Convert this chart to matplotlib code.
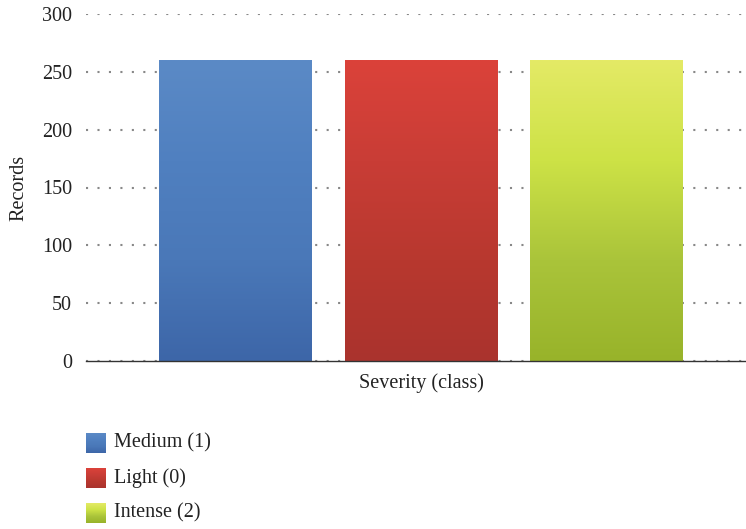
import numpy as np
import matplotlib.pyplot as plt
from matplotlib.colors import LinearSegmentedColormap

plt.rcParams['font.family'] = ['Liberation Serif', 'DejaVu Serif']

labels = ['Medium (1)', 'Light (0)', 'Intense (2)']
records = [260, 260, 260]
xpos = [-1, 0, 1]
yticks = [0, 50, 100, 150, 200, 250, 300]

# gradient stops, bottom -> top
grads = [
    ['#3d66a8', '#4a78b8', '#5080c0', '#5b8ac6'],
    ['#aa332d', '#b8382f', '#c93d36', '#db423a'],
    ['#98b32a', '#aac43a', '#cde246', '#e4ea66'],
]

fig = plt.figure(figsize=(7.46, 5.29), dpi=100)
W, H = 746.0, 529.0
ax = fig.add_axes([86 / W, 1 - 361 / H, (756 - 86) / W, (361 - 14) / H])

width = 0.82
bars = ax.bar(xpos, records, width=width, color='none', zorder=3)
for b, g in zip(bars, grads):
    cmap = LinearSegmentedColormap.from_list('g', g)
    grad = np.linspace(0, 1, 256).reshape(-1, 1)
    im = ax.imshow(grad, cmap=cmap, origin='lower', aspect='auto',
                   extent=[b.get_x(), b.get_x() + b.get_width(), 0, b.get_height()],
                   zorder=3)
    im.set_clip_path(b)

ax.set_xlim(-1.806, 1.806)
ax.set_ylim(0, 300)
ax.set_yticks(yticks)
ax.set_xticks([])
ax.tick_params(axis='y', length=0, pad=10, labelsize=14.5, labelcolor='#222222')
for s in ['top', 'right', 'left']:
    ax.spines[s].set_visible(False)
ax.spines['bottom'].set_color('#333333')
ax.spines['bottom'].set_linewidth(1.0)
ax.spines['bottom'].set_zorder(4)
ax.yaxis.grid(True, color='#888888', linewidth=1.5, linestyle=(0, (1, 4.5)))
ax.set_axisbelow(True)

ax.set_ylabel('Records', fontsize=14.5, color='#222222', labelpad=10)
ax.set_xlabel('Severity (class)', fontsize=14.5, color='#222222', labelpad=9)

# legend below, gradient squares
for i, (lab, g) in enumerate(zip(labels, grads)):
    yc = 443 + i * 35
    lax = fig.add_axes([86 / W, 1 - (yc + 10) / H, 20 / W, 20 / H])
    cmap = LinearSegmentedColormap.from_list('g', g)
    lax.imshow(np.linspace(0, 1, 64).reshape(-1, 1), cmap=cmap, origin='lower', aspect='auto')
    lax.axis('off')
    fig.text(114 / W, 1 - yc / H, lab, fontsize=14.5, color='#222222', va='center')

fig.savefig('out.png', dpi=100)
